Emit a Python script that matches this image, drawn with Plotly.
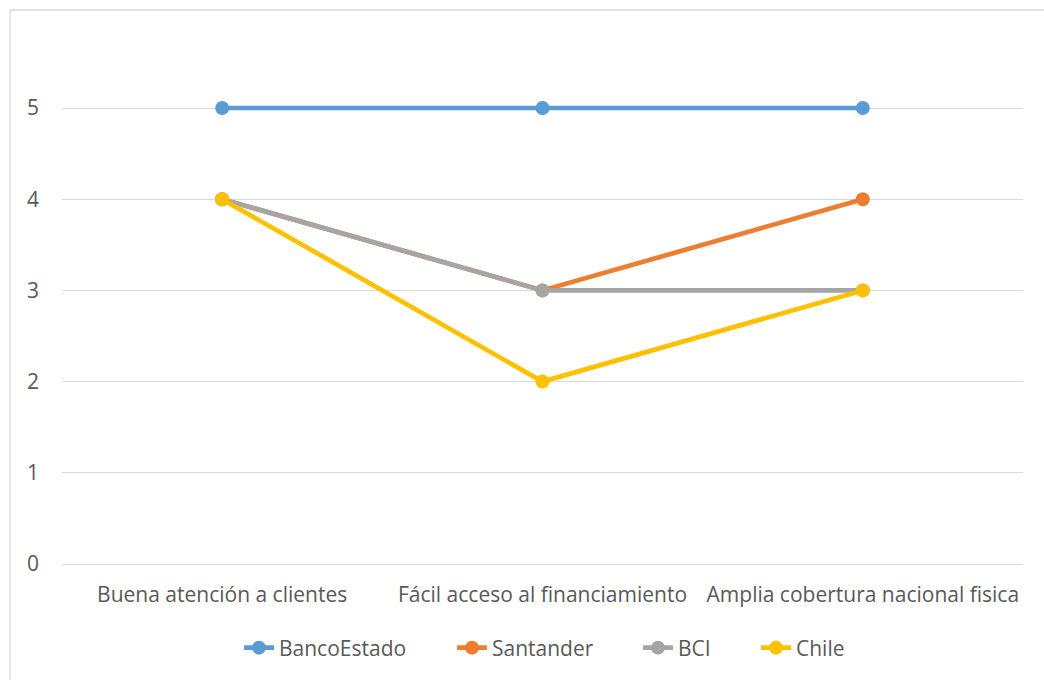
import plotly.graph_objects as go

categories = ["Buena atención a clientes", "Fácil acceso al financiamiento", "Amplia cobertura nacional fisica"]
series_names = ["BancoEstado", "Santander", "BCI", "Chile"]
banco_estado = [5, 5, 5]
santander = [4, 3, 4]
bci = [4, 3, 3]
chile = [4, 2, 3]
colors = ["#5B9BD5", "#ED7D31", "#A5A5A5", "#FFC000"]
y_ticks = [0, 1, 2, 3, 4, 5]

FONT = "Open Sans, sans-serif"
FS = 21
TXT = "#595959"

W, H = 1044, 680
L, R, T, B = 62, 21, 20, 116
pw, ph = W - L - R, H - T - B

def px(x):
    return (x - L) / pw

def py(y):
    return (H - B - y) / ph

legend_ids = ["legend", "legend2", "legend3", "legend4"]
legend_left = [239, 452, 638, 756]

fig = go.Figure()
for name, vals, col, lid in zip(series_names, [banco_estado, santander, bci, chile], colors, legend_ids):
    fig.add_trace(go.Scatter(
        x=categories, y=vals, name=name, mode="lines+markers",
        line=dict(color=col, width=4.7),
        marker=dict(color=col, size=14),
        legend=lid, cliponaxis=False,
    ))

legends = {}
for lid, lx in zip(legend_ids, legend_left):
    legends[lid] = dict(orientation="h", x=px(lx), xanchor="left", y=py(648), yanchor="middle",
                        font=dict(family=FONT, size=FS, color=TXT), bgcolor="rgba(0,0,0,0)",
                        borderwidth=0)

fig.update_layout(
    width=W, height=H,
    margin=dict(l=L, r=R, t=T, b=B),
    paper_bgcolor="white", plot_bgcolor="white",
    font=dict(family=FONT, size=FS, color=TXT),
    showlegend=True,
    **legends,
    xaxis=dict(type="category", range=[-0.5, 2.5], showgrid=False, showline=False,
               ticks="", tickfont=dict(size=FS, color=TXT), ticklabelstandoff=16),
    yaxis=dict(range=[0, 5.965], tickvals=y_ticks, showgrid=True, gridcolor="#D9D9D9",
               gridwidth=1.3, zeroline=True, zerolinecolor="#D9D9D9", zerolinewidth=1.3,
               showline=False, ticks="",
               tickfont=dict(size=FS, color=TXT), ticklabelstandoff=22),
    shapes=[dict(type="rect", xref="paper", yref="paper",
                 x0=px(10), x1=px(1060), y0=py(700), y1=py(10),
                 line=dict(color="#D9D9D9", width=1.3), fillcolor="rgba(0,0,0,0)", layer="below")],
)

fig.write_html("out.html")
